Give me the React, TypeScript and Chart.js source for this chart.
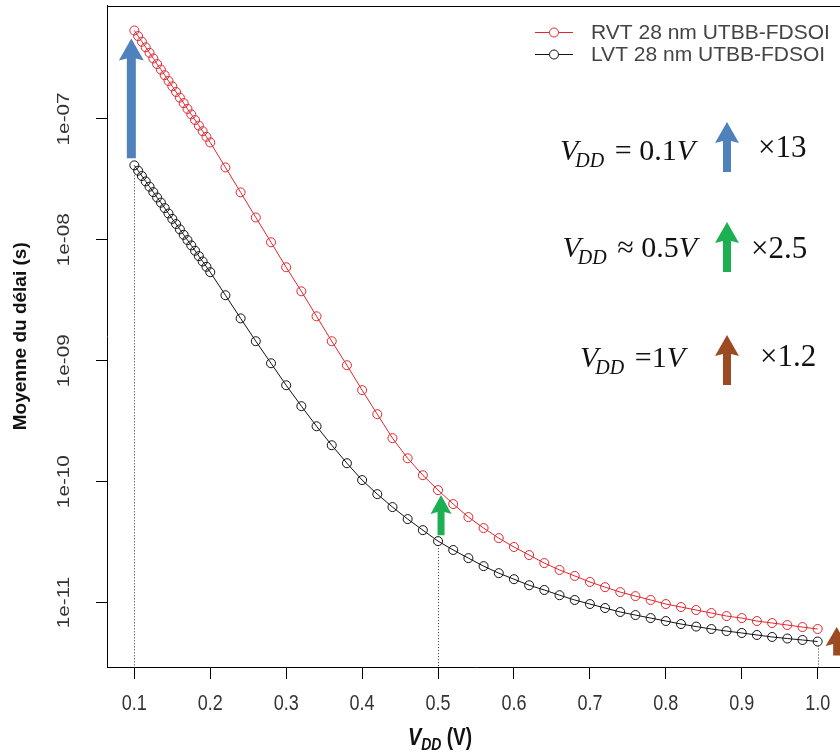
import React, { useEffect, useRef } from "react";
import { Chart, registerables } from "chart.js";

Chart.register(...registerables);

// V_DD sweep (V)
const vdd: number[] = [
  0.1, 0.105, 0.11, 0.115, 0.12, 0.125, 0.13, 0.135, 0.14, 0.145, 0.15, 0.155, 0.16, 0.165, 0.17, 0.175, 0.18, 0.185, 0.19, 0.195, 0.2,
  0.22, 0.24, 0.26, 0.28, 0.3, 0.32, 0.34, 0.36, 0.38, 0.4, 0.42, 0.44, 0.46, 0.48, 0.5, 0.52, 0.54, 0.56, 0.58, 0.6,
  0.62, 0.64, 0.66, 0.68, 0.7, 0.72, 0.74, 0.76, 0.78, 0.8, 0.82, 0.84, 0.86, 0.88, 0.9, 0.92, 0.94, 0.96, 0.98, 1.0,
];

// Mean delay (s), RVT 28 nm UTBB-FDSOI
const rvtDelay: number[] = [
  5.39e-7, 4.84e-7, 4.35e-7, 3.91e-7, 3.52e-7, 3.16e-7, 2.84e-7, 2.56e-7, 2.3e-7, 2.06e-7, 1.86e-7, 1.67e-7, 1.5e-7, 1.35e-7, 1.21e-7, 1.09e-7, 9.79e-8, 8.8e-8, 7.91e-8, 7.11e-8, 6.39e-8,
  3.97e-8, 2.47e-8, 1.53e-8, 9.54e-9, 5.93e-9, 3.75e-9, 2.33e-9, 1.45e-9, 9.18e-10, 5.71e-10, 3.61e-10, 2.29e-10, 1.56e-10, 1.13e-10, 8.51e-11, 6.52e-11, 5.09e-11, 4.13e-11, 3.41e-11, 2.88e-11,
  2.47e-11, 2.12e-11, 1.86e-11, 1.66e-11, 1.48e-11, 1.34e-11, 1.22e-11, 1.13e-11, 1.05e-11, 9.72e-12, 9.18e-12, 8.67e-12, 8.19e-12, 7.73e-12, 7.44e-12, 7.03e-12, 6.77e-12, 6.52e-12, 6.27e-12, 6.04e-12,
];

// Mean delay (s), LVT 28 nm UTBB-FDSOI
const lvtDelay: number[] = [
  4.13e-8, 3.73e-8, 3.37e-8, 3.04e-8, 2.75e-8, 2.48e-8, 2.24e-8, 2.03e-8, 1.83e-8, 1.65e-8, 1.49e-8, 1.35e-8, 1.22e-8, 1.1e-8, 9.95e-9, 8.99e-9, 8.12e-9, 7.33e-9, 6.62e-9, 5.98e-9, 5.4e-9,
  3.48e-9, 2.24e-9, 1.45e-9, 9.53e-10, 6.27e-10, 4.21e-10, 2.87e-10, 2.0e-10, 1.42e-10, 1.03e-10, 7.88e-11, 6.16e-11, 4.9e-11, 3.97e-11, 3.22e-11, 2.72e-11, 2.33e-11, 2.0e-11, 1.75e-11, 1.56e-11,
  1.39e-11, 1.27e-11, 1.15e-11, 1.05e-11, 9.72e-12, 9.01e-12, 8.35e-12, 7.88e-12, 7.44e-12, 7.03e-12, 6.64e-12, 6.33e-12, 6.04e-12, 5.81e-12, 5.6e-12, 5.39e-12, 5.19e-12, 5.04e-12, 4.9e-12, 4.76e-12,
];

const seriesLabels: string[] = ["RVT 28 nm UTBB-FDSOI", "LVT 28 nm UTBB-FDSOI"];
const xTickValues: number[] = [0.1, 0.2, 0.3, 0.4, 0.5, 0.6, 0.7, 0.8, 0.9, 1.0];
const xTickLabels: string[] = ["0.1", "0.2", "0.3", "0.4", "0.5", "0.6", "0.7", "0.8", "0.9", "1.0"];
const yTickValues: number[] = [1e-11, 1e-10, 1e-9, 1e-8, 1e-7];
const yTickLabels: string[] = ["1e-11", "1e-10", "1e-09", "1e-08", "1e-07"];
const markedVdd: number[] = [0.1, 0.5, 1.0];
const ratioRows = [
  { op: " = 0.1", ratio: "\u00d713", color: "#4f81bd" },
  { op: " \u2248 0.5", ratio: "\u00d72.5", color: "#1db053" },
  { op: " =1", ratio: "\u00d71.2", color: "#9b4a22" },
];

const RED = "#e0262e";
const BLACK = "#111111";
const SERIF = "'Liberation Serif', 'DejaVu Serif', serif";
const SANS = "'Liberation Sans', Arial, sans-serif";

function drawArrow(ctx: CanvasRenderingContext2D, x: number, yBottom: number, yTop: number, color: string, shaftW: number, headW: number, headL: number) {
  ctx.save();
  ctx.fillStyle = color;
  ctx.beginPath();
  ctx.moveTo(x - shaftW / 2, yBottom);
  ctx.lineTo(x - shaftW / 2, yTop + headL);
  ctx.lineTo(x - headW / 2, yTop + headL + 2);
  ctx.lineTo(x, yTop);
  ctx.lineTo(x + headW / 2, yTop + headL + 2);
  ctx.lineTo(x + shaftW / 2, yTop + headL);
  ctx.lineTo(x + shaftW / 2, yBottom);
  ctx.closePath();
  ctx.fill();
  ctx.restore();
}

const decorPlugin = {
  id: "decor",
  afterDatasetsDraw(chart: any) {
    const ctx: CanvasRenderingContext2D = chart.ctx;
    const xs = chart.scales.x;
    const ys = chart.scales.y;
    const area = chart.chartArea;
    ctx.save();
    ctx.strokeStyle = "#333";
    ctx.lineWidth = 1;
    ctx.setLineDash([1, 2]);
    markedVdd.forEach((v) => {
      const i = vdd.indexOf(v);
      const px = Math.round(xs.getPixelForValue(v)) + 0.5;
      ctx.beginPath();
      ctx.moveTo(px, ys.getPixelForValue(lvtDelay[i]) + 4);
      ctx.lineTo(px, area.bottom);
      ctx.stroke();
    });
    ctx.restore();
    const colors = ratioRows.map((r) => r.color);
    const i0 = vdd.indexOf(0.1);
    drawArrow(ctx, xs.getPixelForValue(vdd[i0]) - 3, ys.getPixelForValue(lvtDelay[i0]) - 7, ys.getPixelForValue(rvtDelay[i0]) + 8, colors[0], 9, 25, 20);
    const i1 = vdd.indexOf(0.5);
    drawArrow(ctx, xs.getPixelForValue(vdd[i1]) + 3, ys.getPixelForValue(lvtDelay[i1]) - 6, ys.getPixelForValue(rvtDelay[i1]) + 5, colors[1], 7, 21, 17);
    const i2 = vdd.indexOf(1.0);
    drawArrow(ctx, xs.getPixelForValue(vdd[i2]) + 19, ys.getPixelForValue(lvtDelay[i2]) + 14, ys.getPixelForValue(rvtDelay[i2]) - 2, colors[2], 7, 22, 17);
  },
  afterDraw(chart: any) {
    const ctx: CanvasRenderingContext2D = chart.ctx;
    const area = chart.chartArea;
    const xs = chart.scales.x;
    const ys = chart.scales.y;
    ctx.save();
    ctx.strokeStyle = "#000";
    ctx.lineWidth = 1;
    ctx.beginPath();
    ctx.moveTo(area.left, Math.round(area.top) + 0.5);
    ctx.lineTo(area.right, Math.round(area.top) + 0.5);
    ctx.lineTo(area.right, area.bottom);
    ctx.stroke();

    // y tick labels (rotated, stretched along the axis)
    ctx.fillStyle = "#333";
    ctx.font = `17px ${SANS}`;
    ctx.textAlign = "center";
    ctx.textBaseline = "middle";
    yTickValues.forEach((v, k) => {
      const py = ys.getPixelForValue(v);
      ctx.save();
      ctx.translate(64, py);
      ctx.rotate(-Math.PI / 2);
      ctx.scale(1.22, 1);
      ctx.fillText(yTickLabels[k], 0, 0);
      ctx.restore();
    });

    // x tick labels (tall)
    ctx.font = `18px ${SANS}`;
    xTickValues.forEach((v, k) => {
      const px = xs.getPixelForValue(v);
      ctx.save();
      ctx.translate(px, 704);
      ctx.scale(1, 1.25);
      ctx.fillText(xTickLabels[k], 0, 0);
      ctx.restore();
    });

    // y title
    ctx.save();
    ctx.fillStyle = "#111";
    ctx.font = `bold 19px ${SANS}`;
    ctx.translate(21, (area.top + area.bottom) / 2);
    ctx.rotate(-Math.PI / 2);
    ctx.textAlign = "center";
    ctx.textBaseline = "middle";
    ctx.fillText("Moyenne du d\u00e9lai (s)", 0, 0);
    ctx.restore();

    // x title: V_DD (V)
    ctx.save();
    ctx.fillStyle = "#111";
    ctx.textAlign = "left";
    ctx.textBaseline = "alphabetic";
    const fV = `italic bold 20px ${SANS}`;
    const fSub = `italic bold 14px ${SANS}`;
    const fRest = `bold 19px ${SANS}`;
    ctx.font = fV; const wV = ctx.measureText("V").width;
    ctx.font = fSub; const wS = ctx.measureText("DD").width;
    ctx.font = fRest; const wR = ctx.measureText(" (V)").width;
    ctx.translate(440, 745);
    ctx.scale(1, 1.22);
    let tx = -(wV + wS + wR) / 2;
    ctx.font = fV; ctx.fillText("V", tx, 0); tx += wV;
    ctx.font = fSub; ctx.fillText("DD", tx, 4); tx += wS;
    ctx.font = fRest; ctx.fillText(" (V)", tx, 0);
    ctx.restore();

    // legend
    ctx.font = `21px ${SANS}`;
    ctx.textAlign = "left";
    ctx.textBaseline = "middle";
    const legendColors = [RED, BLACK];
    seriesLabels.forEach((lab, k) => {
      const ly = 32 + k * 22;
      ctx.strokeStyle = legendColors[k];
      ctx.lineWidth = 1;
      ctx.beginPath();
      ctx.moveTo(535, ly + 0.5);
      ctx.lineTo(573, ly + 0.5);
      ctx.stroke();
      ctx.beginPath();
      ctx.arc(554, ly + 0.5, 4.5, 0, Math.PI * 2);
      ctx.fillStyle = "#fff";
      ctx.fill();
      ctx.stroke();
      ctx.fillStyle = "#444";
      ctx.fillText(lab, 591, ly + 1);
    });

    // ratio annotations
    const rowBase = [160, 257, 367];
    const rowEnd = [695, 697, 685];
    const ratioX = [758, 751, 760];
    const ratioBase = [157, 258, 366];
    const arrowTop = [122, 222, 335];
    ratioRows.forEach((r, k) => {
      const b = rowBase[k];
      const fMain = `italic 30px ${SERIF}`;
      const fSubD = `italic 20px ${SERIF}`;
      const fUp = `30px ${SERIF}`;
      ctx.font = fMain; const w1 = ctx.measureText("V").width;
      ctx.font = fSubD; const w2 = ctx.measureText("DD").width;
      ctx.font = fUp; const w3 = ctx.measureText(r.op).width;
      ctx.font = fMain; const w4 = ctx.measureText("V").width;
      let x = rowEnd[k] - (w1 + w2 + w3 + w4);
      ctx.fillStyle = "#111";
      ctx.textBaseline = "alphabetic";
      ctx.font = fMain; ctx.fillText("V", x, b); x += w1 - 3;
      ctx.font = fSubD; ctx.fillText("DD", x, b + 7); x += w2 + 3;
      ctx.font = fUp; ctx.fillText(r.op, x, b); x += w3;
      ctx.font = fMain; ctx.fillText("V", x, b);
      drawArrow(ctx, 727, arrowTop[k] + 50, arrowTop[k], r.color, 8, 24, 19);
      ctx.font = `31px ${SERIF}`;
      ctx.fillStyle = "#111";
      ctx.fillText(r.ratio, ratioX[k], ratioBase[k]);
    });
    ctx.restore();
  },
};

export default function App() {
  const canvasRef = useRef<HTMLCanvasElement | null>(null);

  useEffect(() => {
    const canvas = canvasRef.current;
    if (!canvas) return;
    const toPoints = (arr: number[]) => arr.map((y, i) => ({ x: vdd[i], y }));
    const chart = new Chart(canvas, {
      type: "line",
      data: {
        datasets: [
          {
            label: seriesLabels[0],
            data: toPoints(rvtDelay),
            borderColor: RED,
            borderWidth: 1,
            pointRadius: 4.5,
            pointBorderWidth: 1,
            pointBorderColor: RED,
            pointBackgroundColor: "rgba(0,0,0,0)",
            tension: 0,
          },
          {
            label: seriesLabels[1],
            data: toPoints(lvtDelay),
            borderColor: BLACK,
            borderWidth: 1,
            pointRadius: 4.5,
            pointBorderWidth: 1,
            pointBorderColor: BLACK,
            pointBackgroundColor: "rgba(0,0,0,0)",
            tension: 0,
          },
        ],
      },
      options: {
        animation: false,
        responsive: false,
        devicePixelRatio: 1,
        layout: { padding: { left: 0, top: 5, right: 15, bottom: 0 } },
        plugins: { legend: { display: false }, tooltip: { enabled: false } },
        scales: {
          x: {
            type: "linear",
            min: 0.064,
            max: 1.036,
            afterBuildTicks: (scale: any) => {
              scale.ticks = xTickValues.map((v) => ({ value: v }));
            },
            afterFit: (scale: any) => {
              scale.height = 89;
            },
            ticks: { display: false },
            grid: { display: true, drawOnChartArea: false, drawTicks: true, tickLength: 12, color: "#000", lineWidth: 1 },
            border: { display: true, color: "#000", width: 1 },
          },
          y: {
            type: "logarithmic",
            min: 2.93e-12,
            max: 8.67e-7,
            afterBuildTicks: (scale: any) => {
              scale.ticks = yTickValues.map((v) => ({ value: v }));
            },
            afterFit: (scale: any) => {
              scale.width = 107;
            },
            ticks: { display: false },
            grid: { display: true, drawOnChartArea: false, drawTicks: true, tickLength: 11, color: "#000", lineWidth: 1 },
            border: { display: true, color: "#000", width: 1 },
          },
        },
      },
      plugins: [decorPlugin],
    } as any);
    return () => chart.destroy();
  }, []);

  return (
    <div style={{ position: "fixed", left: 0, top: 0, width: 840, height: 756, overflow: "hidden", background: "#fff" }}>
      <canvas ref={canvasRef} width={860} height={756} style={{ width: 860, height: 756, display: "block" }} />
    </div>
  );
}
